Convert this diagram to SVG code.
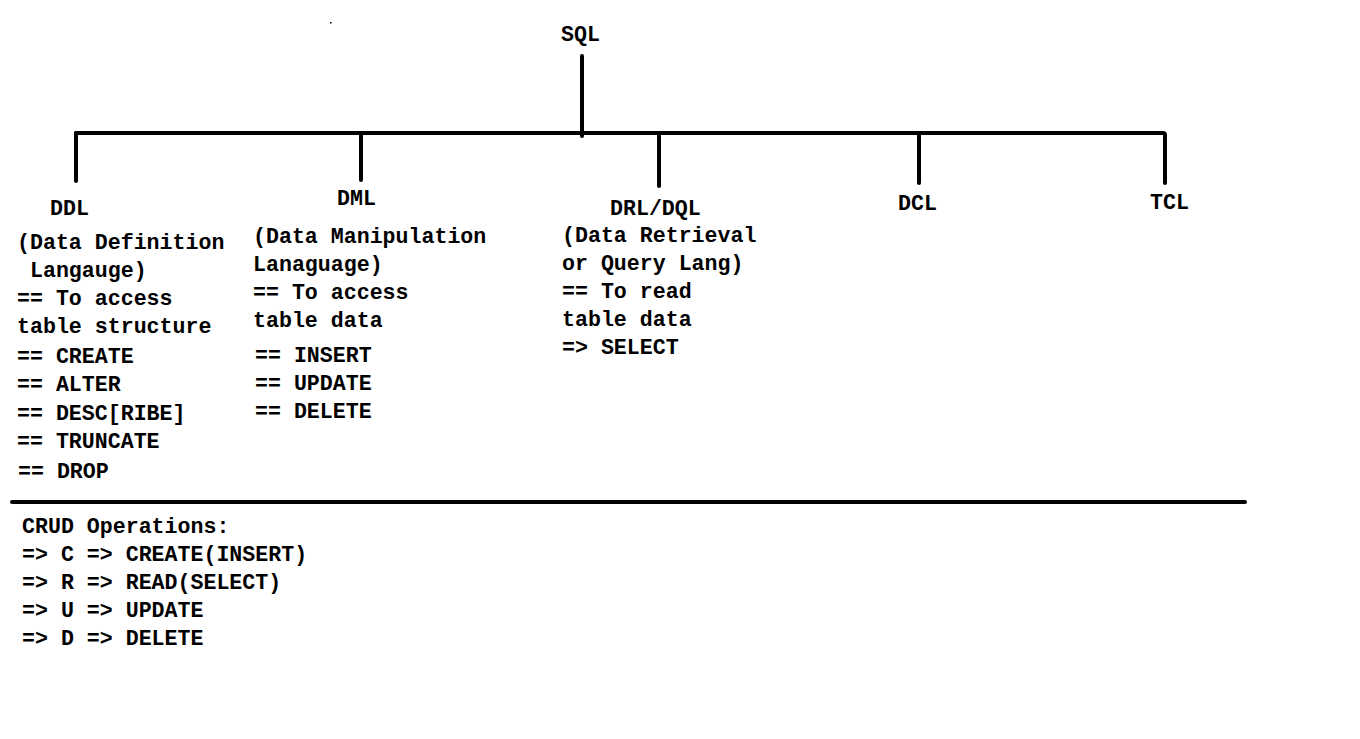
<svg xmlns="http://www.w3.org/2000/svg" width="1360" height="739" viewBox="0 0 1360 739">
<style>
text{font-family:"Liberation Mono","DejaVu Sans Mono",monospace;font-weight:bold;font-size:21.6px;fill:#000}
.ln{stroke:#000;stroke-width:4;fill:none;stroke-linecap:round;stroke-linejoin:round}
</style>
<rect width="1360" height="739" fill="#fff"/>
<rect x="330" y="22" width="1.5" height="1.5" fill="#000"/>
<g id="connectors">
<path class="ln" d="M582 56V136"/>
<path class="ln" d="M76 133H1163Q1165 133 1165 135V183"/>
<path class="ln" d="M76 133V181"/>
<path class="ln" d="M361 133V180"/>
<path class="ln" d="M659 133V186"/>
<path class="ln" d="M919 133V183"/>
<path class="ln" d="M12 502H1245"/>
</g>
<g id="sql"><text x="561" y="41">SQL</text></g>
<g id="ddl">
<text x="50" y="215">DDL</text>
<text x="17" y="249">(Data Definition</text>
<text x="17" y="277" xml:space="preserve"> Langauge)</text>
<text x="17" y="305">== To access</text>
<text x="17" y="333">table structure</text>
<text x="17" y="363">== CREATE</text>
<text x="17" y="391">== ALTER</text>
<text x="17" y="420">== DESC[RIBE]</text>
<text x="17" y="448">== TRUNCATE</text>
<text x="18" y="478">== DROP</text>
</g>
<g id="dml">
<text x="337" y="205">DML</text>
<text x="253" y="243">(Data Manipulation</text>
<text x="253" y="271">Lanaguage)</text>
<text x="253" y="299">== To access</text>
<text x="253" y="327">table data</text>
<text x="255" y="362">== INSERT</text>
<text x="255" y="390">== UPDATE</text>
<text x="255" y="418">== DELETE</text>
</g>
<g id="drl">
<text x="610" y="215">DRL/DQL</text>
<text x="562" y="242">(Data Retrieval</text>
<text x="562" y="270">or Query Lang)</text>
<text x="562" y="298">== To read</text>
<text x="562" y="326">table data</text>
<text x="562" y="354">=&gt; SELECT</text>
</g>
<g id="dcl"><text x="898" y="210">DCL</text></g>
<g id="tcl"><text x="1150" y="209">TCL</text></g>
<g id="crud">
<text x="22" y="533">CRUD Operations:</text>
<text x="22" y="561">=&gt; C =&gt; CREATE(INSERT)</text>
<text x="22" y="589">=&gt; R =&gt; READ(SELECT)</text>
<text x="22" y="617">=&gt; U =&gt; UPDATE</text>
<text x="22" y="645">=&gt; D =&gt; DELETE</text>
</g>
</svg>
